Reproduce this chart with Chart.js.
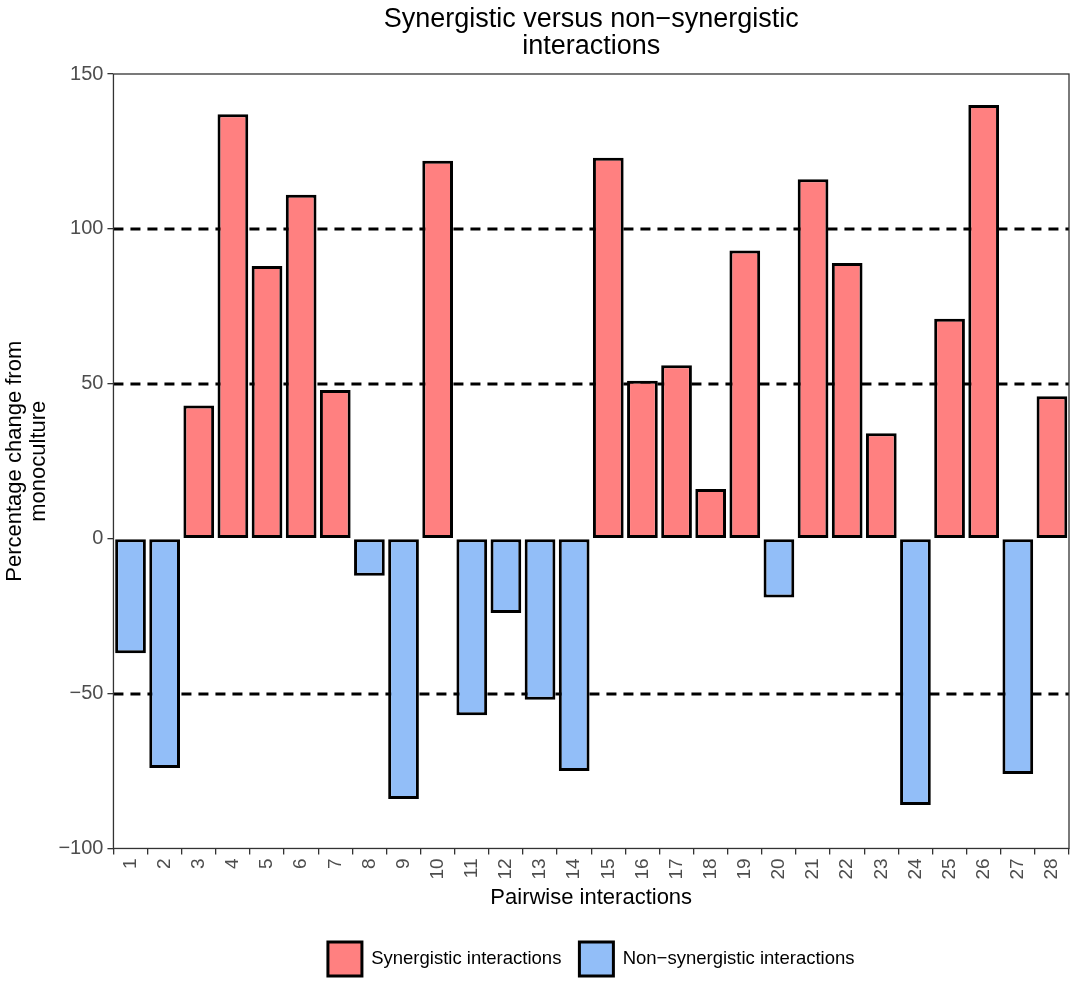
<!DOCTYPE html>
<html>
<head>
<meta charset="utf-8">
<script src="https://cdn.jsdelivr.net/npm/chart.js@4.4.1/dist/chart.umd.min.js"></script>
<style>
    html, body { margin: 0; padding: 0; background: #ffffff; }
    #wrap { width: 1080px; height: 997px; }
</style>
</head>
<body>
<div id="wrap"><canvas id="barChart"></canvas></div>
<script>
// Pairwise interactions, % change from monoculture
const categories = ['1', '2', '3', '4', '5', '6', '7', '8', '9', '10', '11', '12', '13', '14',
    '15', '16', '17', '18', '19', '20', '21', '22', '23', '24', '25', '26', '27', '28'];
const changeValues = [-37, -74, 43, 137, 88, 111, 48, -12, -84, 122, -57, -24, -52, -75,
    123, 51, 56, 16, 93, -19, 116, 89, 34, -86, 71, 140, -76, 46];
const yTicks = [-100, -50, 0, 50, 100, 150];
const refLines = [-50, 50, 100];

const fontFamily = '"Liberation Sans", Arial, sans-serif';

// split into the two groups by sign
const synergistic = changeValues.map(v => v > 0 ? v : null);
const nonSynergistic = changeValues.map(v => v <= 0 ? v : null);

// dashed reference lines + panel frame
const panelPlugin = {
    id: 'panelPlugin',
    beforeDatasetsDraw(chart) {
        const { ctx, chartArea, scales } = chart;
        ctx.save();
        ctx.strokeStyle = '#000000';
        ctx.lineWidth = 2.8;
        ctx.setLineDash([10, 7]);
        refLines.forEach(v => {
            const y = Math.round(scales.y.getPixelForValue(v));
            ctx.beginPath();
            ctx.moveTo(chartArea.left, y);
            ctx.lineTo(chartArea.right, y);
            ctx.stroke();
        });
        ctx.restore();
    },
    afterDatasetsDraw(chart) {
        const { ctx, chartArea } = chart;
        ctx.save();
        ctx.strokeStyle = '#333333';
        ctx.lineWidth = 1.3;
        ctx.strokeRect(chartArea.left, chartArea.top,
            chartArea.right - chartArea.left, chartArea.bottom - chartArea.top);
        ctx.restore();
    }
};

const config = {
    type: 'bar',
    data: {
        labels: categories,
        datasets: [
            {
                label: 'Synergistic interactions',
                data: synergistic,
                backgroundColor: '#FF8080',
                borderColor: '#000000',
                borderWidth: 3,
                borderSkipped: false
            },
            {
                label: 'Non\u2212synergistic interactions',
                data: nonSynergistic,
                backgroundColor: '#92BEF8',
                borderColor: '#000000',
                borderWidth: 3,
                borderSkipped: false
            }
        ]
    },
    options: {
        responsive: true,
        maintainAspectRatio: false,
        animation: false,
        grouped: false,
        barPercentage: 0.9,
        categoryPercentage: 1.0,
        layout: {
            padding: { left: 3, right: 11, top: 0, bottom: 11 }
        },
        plugins: {
            title: {
                display: true,
                fullSize: false,
                text: ['Synergistic versus non\u2212synergistic', 'interactions'],
                color: '#000000',
                font: { family: fontFamily, size: 27, weight: 'normal', lineHeight: 1.0 },
                padding: { top: 6, bottom: 14 }
            },
            legend: {
                display: true,
                position: 'bottom',
                fullSize: false,
                labels: {
                    boxWidth: 34,
                    boxHeight: 34,
                    padding: 18,
                    color: '#000000',
                    font: { family: fontFamily, size: 18.5 }
                }
            },
            tooltip: { enabled: false }
        },
        scales: {
            x: {
                type: 'category',
                offset: true,
                grid: {
                    display: true,
                    drawOnChartArea: false,
                    drawTicks: true,
                    tickLength: 6,
                    color: '#333333',
                    lineWidth: 1.3
                },
                border: { display: false },
                ticks: {
                    autoSkip: false,
                    minRotation: 90,
                    maxRotation: 90,
                    padding: 4,
                    color: '#4d4d4d',
                    font: { family: fontFamily, size: 19 }
                },
                title: {
                    display: true,
                    text: 'Pairwise interactions',
                    color: '#000000',
                    font: { family: fontFamily, size: 22 },
                    padding: { top: 1, bottom: 13 }
                }
            },
            y: {
                min: -100,
                max: 150,
                afterBuildTicks(axis) {
                    axis.ticks = yTicks.map(v => ({ value: v }));
                },
                grid: {
                    display: true,
                    drawOnChartArea: false,
                    drawTicks: true,
                    tickLength: 6,
                    color: '#333333',
                    lineWidth: 1.3
                },
                border: { display: false },
                ticks: {
                    padding: 4,
                    color: '#4d4d4d',
                    font: { family: fontFamily, size: 20 },
                    callback: v => String(v).replace('-', '\u2212')
                },
                title: {
                    display: true,
                    text: ['Percentage change from', 'monoculture'],
                    color: '#000000',
                    font: { family: fontFamily, size: 22, lineHeight: 1.1 },
                    padding: { top: 0, bottom: 3 }
                }
            }
        }
    },
    plugins: [panelPlugin]
};

const ctx = document.getElementById('barChart').getContext('2d');
const barChart = new Chart(ctx, config);
</script>
</body>
</html>
